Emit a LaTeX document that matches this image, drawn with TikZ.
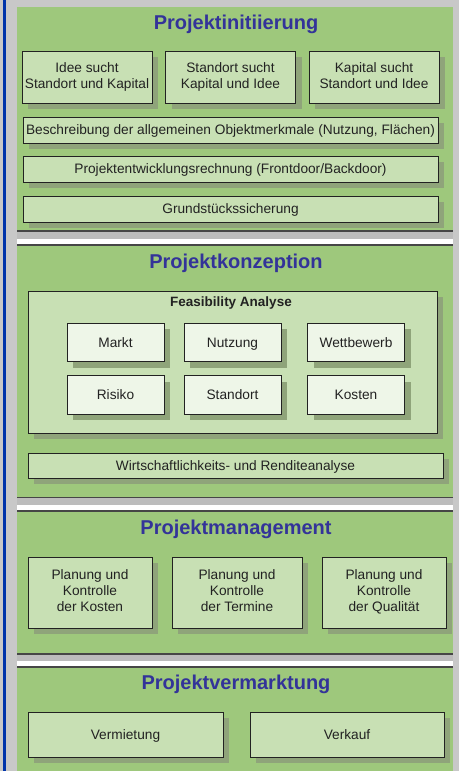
\documentclass[tikz,border=0pt]{standalone}
\usepackage{fontspec}
\setmainfont{Liberation Sans}
\usepackage{tikz}
\usetikzlibrary{positioning, shadows}
\usepackage{xcolor}
\definecolor{PanelGreen}{RGB}{158,200,124}
\definecolor{BoxGreen}{RGB}{200,224,180}
\definecolor{LiteGreen}{RGB}{238,246,232}
\definecolor{ShadowGreen}{RGB}{143,164,122}
\definecolor{TitleBlue}{RGB}{51,51,153}
\definecolor{FrameGray}{RGB}{200,200,200}
\definecolor{BandGray}{RGB}{188,188,188}
\definecolor{EdgeBlue}{RGB}{0,51,170}
\definecolor{RuleGray}{RGB}{70,70,70}
\definecolor{RichBlack}{RGB}{34,34,34}
\newcommand{\boxstrut}{\rule[-3.4pt]{0pt}{16.6pt}}
\tikzset{%
  phase/.style={%
    fill=PanelGreen%
  },
  phase_rule/.style={%
    draw=RuleGray,%
    line width=1.5pt%
  },
  phase_title/.style={%
    text=TitleBlue,%
    inner sep=0pt,%
    font={\fontsize{20}{24}\selectfont\bfseries}%
  },
  heading/.style={%
    text=RichBlack,%
    inner sep=0pt,%
    font={\fontsize{13.5}{16}\selectfont\bfseries}%
  },
  box/.style={%
    rectangle,%
    draw=RichBlack,%
    line width=1pt,%
    fill=BoxGreen,%
    text=RichBlack,%
    inner sep=0pt,%
    align=center,%
    font={\fontsize{13.7}{16}\selectfont},%
    execute at begin node=\boxstrut,%
    execute at end node=\boxstrut,%
    general shadow={fill=ShadowGreen, shadow xshift=6pt, shadow yshift=-6pt}%
  },
  factor/.style={%
    box,%
    fill=LiteGreen,%
    minimum width=97pt,%
    minimum height=38.5pt%
  },
  task/.style={%
    box,%
    minimum width=124pt,%
    minimum height=71pt%
  },
}
\begin{document}
\begin{tikzpicture}[x=1pt, y=-1pt]
  \useasboundingbox (0,0) rectangle (459,771);
  \fill[FrameGray] (0,0) rectangle (459,771);
  \fill[EdgeBlue] (3,0) rectangle (5.5,771);

  % phases and the bands between them
  \fill[phase] (17,7) rectangle (453,231);
  \fill[phase] (17,245) rectangle (453,497.5);
  \fill[phase] (17,511) rectangle (453,654);
  \fill[phase] (17,667) rectangle (453,771);
  \foreach \bot/\top in {231/245, 497.5/511, 654/667} {
    \fill[BandGray] (17,\bot) rectangle (453,\top);
    \fill[white] (17,{\top-6.5}) rectangle (453,{\top-1});
    \draw[phase_rule] (17,\bot) -- (453,\bot) (17,\top) -- (453,\top);
  }

  % Projektinitiierung
  \node [phase_title] (Initiierung) at (236,24) {Projektinitiierung};
  \node [box, minimum width=130pt, minimum height=52pt] (IdeeSucht) at (87,77)
    {Idee sucht\\Standort und Kapital};
  \node [box, minimum width=130pt, minimum height=52pt, right=12.5pt of IdeeSucht] (StandortSucht)
    {Standort sucht\\Kapital und Idee};
  \node [box, minimum width=130pt, minimum height=52pt, right=12.5pt of StandortSucht] (KapitalSucht)
    {Kapital sucht\\Standort und Idee};
  \node [box, minimum width=415pt, minimum height=26pt, below=13pt of StandortSucht] (Beschreibung)
    {Beschreibung der allgemeinen Objektmerkmale (Nutzung, Flächen)};
  \node [box, minimum width=415pt, minimum height=26pt, below=12pt of Beschreibung] (Rechnung)
    {Projektentwicklungsrechnung (Frontdoor/Backdoor)};
  \node [box, minimum width=415pt, minimum height=26pt, below=13pt of Rechnung] (Sicherung)
    {Grundstückssicherung};

  % Projektkonzeption
  \node [phase_title] (Konzeption) at (236,263) {Projektkonzeption};
  \node [box, minimum width=409pt, minimum height=142pt] (Feasibility) at (232.5,362) {};
  \node [heading] (FeasibilityTitle) at (231,303) {Feasibility Analyse};
  \node [factor] (Markt) at (115.5,342.5) {Markt};
  \node [factor] (Nutzung) at (232.5,342.5) {Nutzung};
  \node [factor] (Wettbewerb) at (356,342.5) {Wettbewerb};
  \node [factor] (Risiko) at (115.5,395) {Risiko};
  \node [factor] (Standort) at (232.5,395) {Standort};
  \node [factor] (Kosten) at (356,395) {Kosten};
  \node [box, minimum width=415pt, minimum height=25pt] (Rendite) at (235.5,465.5)
    {Wirtschaftlichkeits- und Renditeanalyse};

  % Projektmanagement
  \node [phase_title] (Management) at (236,529) {Projektmanagement};
  \node [task] (PlanKosten) at (90,592.5) {Planung und\\Kontrolle\\der Kosten};
  \node [task, minimum width=130pt, right=19pt of PlanKosten] (PlanTermine)
    {Planung und\\Kontrolle\\der Termine};
  \node [task, right=19pt of PlanTermine] (PlanQualitaet)
    {Planung und\\Kontrolle\\der Qualität};

  % Projektvermarktung
  \node [phase_title] (Vermarktung) at (236,684) {Projektvermarktung};
  \node [box, minimum width=195pt, minimum height=45pt] (Vermietung) at (125.5,734.5) {Vermietung};
  \node [box, minimum width=194pt, minimum height=45pt, right=26pt of Vermietung] (Verkauf) {Verkauf};
\end{tikzpicture}
\end{document}
